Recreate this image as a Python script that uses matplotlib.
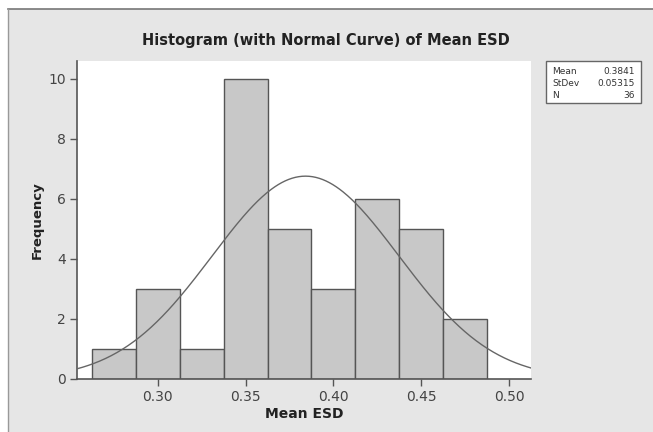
import numpy as np
import matplotlib
matplotlib.use("Agg")
import matplotlib.pyplot as plt
from matplotlib.patches import Rectangle
from matplotlib.lines import Line2D

# Data
bin_edges = [0.2625, 0.2875, 0.3125, 0.3375, 0.3625, 0.3875, 0.4125, 0.4375, 0.4625, 0.4875]
counts = [1, 3, 1, 10, 5, 3, 6, 5, 2]
mean_val = 0.3841
std_val = 0.05315
n_val = 36
xticks = [0.30, 0.35, 0.40, 0.45, 0.50]
xtick_labels = ["0.30", "0.35", "0.40", "0.45", "0.50"]
yticks = [0, 2, 4, 6, 8, 10]

W, H = 653, 432
fig = plt.figure(figsize=(W / 100, H / 100), dpi=100)
fig.patch.set_facecolor("white")

# grey panel background with border line
bg = Rectangle((8 / W, 0), 1 - 8 / W, 1 - 9 / H, transform=fig.transFigure,
               facecolor="#e6e6e6", edgecolor="none", zorder=0)
fig.add_artist(bg)
fig.add_artist(Line2D([8 / W, 1], [1 - 9 / H, 1 - 9 / H], transform=fig.transFigure,
                      color="#777777", lw=1.2))
fig.add_artist(Line2D([8 / W, 8 / W], [0, 1 - 9 / H], transform=fig.transFigure,
                      color="#999999", lw=1.0))

left, right, top, bottom = 77, 530.7, 60.7, 379
ax = fig.add_axes([left / W, 1 - bottom / H, (right - left) / W, (bottom - top) / H])
ax.set_facecolor("white")

widths = np.diff(bin_edges)
ax.bar(bin_edges[:-1], counts, width=widths, align="edge",
       facecolor="#c8c8c8", edgecolor="#555555", linewidth=1.0, zorder=2)

xs = np.linspace(0.2541, 0.5122, 400)
bw = bin_edges[1] - bin_edges[0]
ys = n_val * bw / (std_val * np.sqrt(2 * np.pi)) * np.exp(-0.5 * ((xs - mean_val) / std_val) ** 2)
ax.plot(xs, ys, color="#666666", lw=1.0, zorder=3)

ax.set_xlim(0.2541, 0.5122)
ax.set_ylim(0, 10.6)
ax.set_xticks(xticks)
ax.set_xticklabels(xtick_labels)
ax.set_yticks(yticks)
for s in ["top", "right"]:
    ax.spines[s].set_visible(False)
for s in ["left", "bottom"]:
    ax.spines[s].set_color("#555555")
    ax.spines[s].set_linewidth(1.2)
ax.tick_params(direction="out", length=5, width=1, color="#555555",
               labelsize=10, labelcolor="#444444", pad=3)

ax.set_xlabel("Mean ESD", fontsize=10, fontweight="bold", color="#222222", labelpad=2)
ax.set_ylabel("Frequency", fontsize=9.5, fontweight="bold", color="#222222", labelpad=3)

fig.text(326 / W, 1 - 40 / H, "Histogram (with Normal Curve) of Mean ESD",
         ha="center", va="center", fontsize=10.5, fontweight="bold", color="#222222")

# stats box
bx0, bx1, by0, by1 = 546, 641, 61, 103
fig.add_artist(Rectangle((bx0 / W, 1 - by1 / H), (bx1 - bx0) / W, (by1 - by0) / H,
                         transform=fig.transFigure, facecolor="white",
                         edgecolor="#666666", lw=1.0))
rows = [("Mean", "0.3841"), ("StDev", "0.05315"), ("N", "36")]
for i, (k, v) in enumerate(rows):
    yy = 1 - (72 + 11.5 * i) / H
    fig.text(552 / W, yy, k, ha="left", va="center", fontsize=6.5, color="#333333")
    fig.text(635 / W, yy, v, ha="right", va="center", fontsize=6.5, color="#333333")

fig.savefig("out.png", dpi=100)
